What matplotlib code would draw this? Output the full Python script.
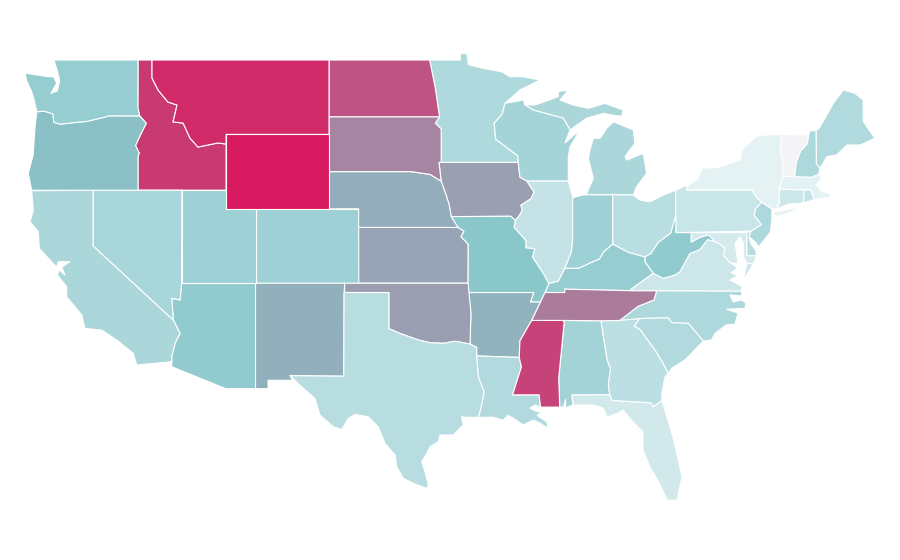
import matplotlib
matplotlib.use("Agg")
import matplotlib.pyplot as plt
from matplotlib.colors import LinearSegmentedColormap, Normalize
from matplotlib.patches import Polygon

states = ["AL","AZ","AR","CA","CO","CT","DE","FL","GA","ID","IL","IN","IA","KS","KY","LA","ME","MD","MA","MI","MN","MS","MO","MT","NE","NV","NH","NJ","NM","NY","NC","ND","OH","OK","OR","PA","RI","SC","SD","TN","TX","UT","VT","VA","WA","WV","WI","WY"]
values = [30,36.3,46.7,26.7,31.8,15,22,12.6,20.7,88.8,17.4,32,53.7,51.6,34.4,24.4,24.8,11.8,6.3,26.7,25.5,85.6,39.5,94.7,48.8,28,25.9,26,47.7,6,26,80,21.8,54,41.8,16.3,17,24.4,62.8,66.3,22.2,32,0,15,35,36,29,100]

red_river = [(-94.49,33.73),(-95.5,33.88),(-96.3,33.77),(-97.2,33.8),(-98,33.95),(-99.24,34.3),(-100,34.56)]

outlines = {
"WA":[[(-124.7,48.3),(-123.12,48.1),(-122.75,48.1),(-122.55,47.75),(-122.95,47.2),(-122.5,47.35),(-122.35,47.9),(-122.5,48.4),(-122.73,49),(-117.03,49),(-117.04,46.42),(-116.92,45.995),(-118.98,46),(-119.3,45.93),(-120.5,45.7),(-121.2,45.65),(-122.3,45.55),(-122.75,45.65),(-122.8,46.1),(-123.4,46.25),(-123.9,46.22),(-124.1,46.9),(-124.25,47.3),(-124.6,47.9)]],
"OR":[[(-123.9,46.22),(-123.4,46.25),(-122.8,46.1),(-122.75,45.65),(-122.3,45.55),(-121.2,45.65),(-120.5,45.7),(-119.3,45.93),(-118.98,46),(-116.92,45.995),(-116.47,45.6),(-116.85,45),(-117.2,44.4),(-116.95,44),(-117.03,43.8),(-117.03,42),(-124.25,42),(-124.48,42.9),(-124.15,43.9),(-124.02,45.41)]],
"ID":[[(-117.03,49),(-116.08,49),(-116.08,48.03),(-115.67,47.39),(-115,46.74),(-114.38,46.58),(-114.65,45.67),(-113.97,45.61),(-113.5,44.8),(-112.96,44.32),(-111.6,44.54),(-111.05,44.48),(-111.05,42),(-117.03,42),(-117.03,43.8),(-116.95,44),(-117.2,44.4),(-116.85,45),(-116.47,45.6),(-116.92,45.995),(-117.04,46.42)]],
"MT":[[(-116.08,49),(-104.05,49),(-104.05,45),(-111.05,45),(-111.05,44.48),(-111.6,44.54),(-112.96,44.32),(-113.5,44.8),(-113.97,45.61),(-114.65,45.67),(-114.38,46.58),(-115,46.74),(-115.67,47.39),(-116.08,48.03)]],
"WY":[[(-111.05,45),(-104.05,45),(-104.05,41),(-111.05,41)]],
"ND":[[(-104.05,49),(-97.23,49),(-96.85,47.5),(-96.56,45.94),(-104.05,45.94)]],
"SD":[[(-104.05,45.94),(-96.56,45.94),(-96.85,45.6),(-96.45,45.3),(-96.45,43.5),(-96.6,43.5),(-96.45,42.49),(-97.2,42.85),(-98.5,43),(-104.05,43)]],
"NE":[[(-104.05,43),(-98.5,43),(-97.2,42.85),(-96.45,42.49),(-96.1,41.7),(-95.9,41.2),(-95.77,40.58),(-95.31,40),(-102.05,40),(-102.05,41),(-104.05,41)]],
"KS":[[(-102.05,40),(-95.31,40),(-94.9,39.8),(-95.1,39.5),(-94.61,39.1),(-94.62,37),(-102.04,37)]],
"OK":[[(-103,37),(-94.62,37),(-94.43,35.4)]+red_river+[(-100,36.5),(-103,36.5)]],
"TX":[[(-106.71,32.03),(-103.06,32),(-103.04,36.5),(-100,36.5)]+red_river[::-1]+[(-94.04,33.55),(-94.04,33.09),(-93.93,31.97),(-93.54,31.17),(-93.7,30.45),(-93.93,29.79),(-94.72,29.79),(-95.06,29.82),(-94.95,29.38),(-95.63,28.84),(-96.53,28.84),(-96.64,28.48),(-97.2,28.21),(-97.43,27.85),(-97.77,27.4),(-97.55,26.87),(-97.32,26.15),(-97.43,25.97),(-98.23,26.2),(-99.02,26.51),(-99.47,27.13),(-99.58,27.76),(-100.26,28.39),(-100.72,29.28),(-101.4,29.82),(-102.3,29.95),(-102.75,29.73),(-103.2,29.14),(-103.77,29.28),(-104.68,29.91),(-105.02,30.81),(-105.92,31.43)]],
"NM":[[(-109.05,37),(-103,37),(-103.04,36.5),(-103.06,32),(-106.71,32.03),(-106.53,31.78),(-108.2,31.78),(-108.2,31.33),(-109.05,31.33)]],
"CO":[[(-109.05,41),(-102.05,41),(-102.05,37),(-109.05,37)]],
"UT":[[(-114.05,42),(-111.05,42),(-111.05,41),(-109.05,41),(-109.05,37),(-114.05,37)]],
"AZ":[[(-114.07,37),(-109.05,37),(-109.05,31.33),(-111.07,31.33),(-114.74,32.51),(-114.74,32.78),(-114.74,33.05),(-114.52,33.77),(-114.18,34.3),(-114.63,35.02),(-114.74,36.19),(-114.18,36.1)]],
"NV":[[(-120.07,42),(-114.05,42),(-114.07,37),(-114.18,36.1),(-114.74,36.19),(-114.63,35.02),(-120.07,39)]],
"CA":[[(-124.25,41.97),(-120.07,42),(-120.07,39),(-114.63,35.02),(-114.18,34.3),(-114.52,33.77),(-114.74,33.05),(-114.74,32.78),(-117.12,32.6),(-117.35,33.23),(-118.48,33.95),(-119.5,34.48),(-120.63,34.57),(-120.85,35.29),(-121.87,36.27),(-121.87,36.81),(-122.51,37.44),(-122.37,37.71),(-121.99,37.44),(-122.21,37.86),(-121.65,38.16),(-122.44,38.16),(-122.55,37.86),(-122.89,38.15),(-123.73,38.87),(-123.8,39.77),(-124.36,40.31),(-124.14,40.93)]],
"MN":[[(-97.23,49),(-95.15,49),(-95.15,49.35),(-94.7,49.35),(-94.6,48.75),(-93.6,48.55),(-92.34,48.37),(-91.78,48.1),(-90.87,48.1),(-89.74,47.92),(-91.1,47.39),(-92.12,46.67),(-92.3,46.1),(-92.85,45.6),(-92.75,44.75),(-91.25,43.85),(-91.22,43.5),(-96.45,43.5),(-96.45,45.3),(-96.85,45.6),(-96.56,45.94),(-96.85,47.5)]],
"IA":[[(-96.6,43.5),(-91.22,43.5),(-91.1,42.7),(-90.65,42.5),(-90.15,41.9),(-90.35,41.55),(-91.05,41.2),(-90.95,40.95),(-91.1,40.7),(-91.42,40.38),(-91.72,40.6),(-95.77,40.58),(-95.9,41.2),(-96.1,41.7),(-96.45,42.49)]],
"MO":[[(-95.77,40.58),(-91.72,40.6),(-91.42,40.38),(-91.5,40),(-90.7,39.3),(-90.7,38.9),(-90.1,38.85),(-90.25,38.4),(-89.5,37.5),(-89.15,36.99),(-89.4,36.5),(-89.7,36),(-90.37,36),(-90.15,36.5),(-94.62,36.5),(-94.62,37),(-94.61,39.1),(-95.1,39.5),(-94.9,39.8),(-95.31,40)]],
"AR":[[(-94.62,36.5),(-90.15,36.5),(-90.37,36),(-89.7,36),(-90.3,35),(-90.6,34.6),(-91.1,33.9),(-91.15,33.01),(-94.04,33.09),(-94.04,33.55),(-94.49,33.73),(-94.43,35.4)]],
"LA":[[(-94.04,33.09),(-91.15,33.01),(-91,32.5),(-91.6,31),(-89.8,31),(-89.7,30.34),(-90.08,30.45),(-90.42,30.29),(-89.94,30.1),(-89.6,30.07),(-89.94,29.9),(-89.27,29.54),(-89.2,29.2),(-89.74,29.48),(-90.2,29.64),(-90.88,29.38),(-91.57,29.75),(-91.9,29.9),(-92.25,29.64),(-92.93,29.8),(-93.93,29.79),(-93.7,30.45),(-93.54,31.17),(-93.93,31.97)]],
"MS":[[(-90.3,35),(-88.2,35),(-88.1,34.9),(-88.47,31.9),(-88.4,30.34),(-89.7,30.34),(-89.8,31),(-91.6,31),(-91,32.5),(-91.15,33.01),(-91.1,33.9),(-90.6,34.6)]],
"TN":[[(-90.3,35),(-89.7,36),(-89.4,36.5),(-88.05,36.5),(-88.07,36.68),(-83.68,36.6),(-81.82,36.6),(-82,36.1),(-83.1,35.75),(-84.32,35),(-85.6,34.98),(-88.2,35)]],
"KY":[[(-89.4,36.5),(-89.15,36.99),(-88.5,37.1),(-88.05,37.8),(-87.1,37.8),(-86.3,38.1),(-85.7,38.3),(-85.4,38.7),(-84.8,39.1),(-84.3,38.9),(-83.7,38.65),(-82.6,38.42),(-82.6,38.15),(-82.05,37.53),(-83.68,36.6),(-88.07,36.68),(-88.05,36.5)]],
"IL":[[(-90.65,42.5),(-87.82,42.5),(-87.52,41.65),(-87.52,39.35),(-87.6,38.7),(-88.05,37.8),(-88.5,37.1),(-89.15,36.99),(-89.5,37.5),(-90.25,38.4),(-90.1,38.85),(-90.7,38.9),(-90.7,39.3),(-91.5,40),(-91.42,40.38),(-91.1,40.7),(-90.95,40.95),(-91.05,41.2),(-90.35,41.55),(-90.15,41.9)]],
"IN":[[(-87.52,41.65),(-86.8,41.76),(-84.8,41.76),(-84.8,39.1),(-85.4,38.7),(-85.7,38.3),(-86.3,38.1),(-87.1,37.8),(-88.05,37.8),(-87.6,38.7),(-87.52,39.35)]],
"OH":[[(-84.8,41.76),(-83.4,41.74),(-82.95,41.47),(-82.27,41.38),(-81.37,41.74),(-80.52,42),(-80.52,40.64),(-80.85,39.7),(-81.7,39.2),(-82.2,38.6),(-82.6,38.42),(-83.7,38.65),(-84.3,38.9),(-84.8,39.1)]],
"WI":[[(-92.12,46.67),(-90.87,46.85),(-90.76,46.58),(-90.2,46.31),(-88.16,45.87),(-87.7,45.24),(-88.04,44.55),(-87.02,45.24),(-87.7,44.34),(-87.82,43.8),(-87.82,42.5),(-90.65,42.5),(-91.1,42.7),(-91.22,43.5),(-91.25,43.85),(-92.75,44.75),(-92.85,45.6),(-92.3,46.1)]],
"MI":[[(-90.76,46.58),(-90.2,46.31),(-88.16,45.87),(-87.7,45.24),(-86.57,45.87),(-85.44,46.13),(-84.87,46.04),(-84.2,45.98),(-84.09,46.31),(-85.33,46.67),(-86.46,46.4),(-87.48,46.58),(-88.38,46.85),(-87.82,47.39),(-88.5,47.3),(-88.5,47.03),(-90.08,46.58)],
      [(-87.48,41.62),(-86.8,41.76),(-84.8,41.76),(-83.4,41.74),(-83.18,42.19),(-82.5,42.9),(-82.73,43.98),(-83.86,43.62),(-83.97,43.8),(-83.3,44.52),(-83.4,45.24),(-84.77,45.68),(-85.21,45.33),(-85.67,44.79),(-86.12,44.79),(-86.35,44.16),(-86.46,43.71),(-86.12,42.64),(-86.57,41.83)],
      [(-89.06,47.89),(-88.65,48.02),(-88.75,47.9)]],
"PA":[[(-80.52,42),(-79.78,42.27),(-79.78,42),(-75.35,42),(-75.05,41.6),(-74.7,41.36),(-75.13,40.98),(-75.2,40.65),(-74.72,40.15),(-75.42,39.8),(-80.52,39.72),(-80.52,40.64)]],
"NY":[[(-79.78,42.19),(-78.99,42.64),(-78.76,43.18),(-77.6,43.23),(-76.16,43.62),(-76.05,44.16),(-75.15,44.84),(-74.8,44.95),(-73.38,45),(-73.4,44),(-73.25,43.6),(-73.27,42.75),(-73.5,42.05),(-73.5,41.3),(-73.65,41),(-74,41),(-74.7,41.36),(-75.05,41.6),(-75.35,42),(-79.78,42)],
      [(-74,40.7),(-73.7,40.85),(-72.6,41),(-72,41.1),(-72.6,40.85),(-73.6,40.6)]],
"VT":[[(-73.38,45),(-71.5,44.97),(-71.6,44.5),(-72.05,44.1),(-72.35,43.5),(-72.46,42.73),(-73.27,42.75),(-73.25,43.6),(-73.4,44)]],
"NH":[[(-71.5,44.97),(-71.4,45.2),(-71,45.2),(-70.98,43.4),(-70.73,43.18),(-70.82,42.87),(-71.3,42.7),(-72.46,42.73),(-72.35,43.5),(-72.05,44.1),(-71.6,44.5)]],
"ME":[[(-71,45.2),(-70.73,45.4),(-69.83,46.67),(-69.15,47.39),(-68.35,47.2),(-67.8,46.85),(-67.79,45.7),(-67.45,45.3),(-67,44.79),(-68,44.43),(-68.9,44.43),(-69.6,43.9),(-70.27,43.8),(-70.73,43.18),(-70.98,43.4)]],
"MA":[[(-73.5,42.05),(-73.27,42.75),(-72.46,42.73),(-71.3,42.7),(-70.82,42.87),(-70.6,42.65),(-71,42.3),(-70.65,41.95),(-70.05,41.8),(-70,41.65),(-70.65,41.55),(-71.12,41.5),(-71.38,42.02),(-71.8,42.02)]],
"CT":[[(-73.5,42.05),(-71.8,42.02),(-71.85,41.32),(-72.9,41.25),(-73.65,41),(-73.5,41.3)]],
"RI":[[(-71.8,42.02),(-71.38,42.02),(-71.12,41.5),(-71.85,41.32)]],
"NJ":[[(-74.7,41.36),(-74,41),(-74,40.45),(-74.1,39.75),(-74.9,38.95),(-75.1,39.2),(-75.55,39.5),(-75.42,39.8),(-74.72,40.15),(-75.2,40.65),(-75.13,40.98)]],
"DE":[[(-75.71,39.72),(-75.42,39.8),(-75.55,39.5),(-75.4,39.1),(-75.1,38.8),(-75.05,38.48),(-75.71,38.48)]],
"MD":[[(-79.48,39.72),(-75.71,39.72),(-75.71,38.48),(-75.05,38.48),(-75.25,38.03),(-75.7,38.07),(-75.94,38.43),(-75.94,39.16),(-76.16,39.5),(-76.5,39.15),(-76.39,38.6),(-76.3,38.05),(-76.84,38.1),(-77.3,38.5),(-77.18,38.87),(-77.5,39.1),(-77.86,39.23),(-78.3,39.6),(-78.9,39.45),(-79.48,39.2)]],
"VA":[[(-83.68,36.6),(-82.05,37.53),(-81.37,37.26),(-80.58,37.44),(-80.24,37.62),(-79.56,38.6),(-78.9,38.8),(-78.35,39.35),(-77.86,39.23),(-77.5,39.1),(-77.18,38.87),(-77.3,38.5),(-76.84,38.1),(-76.3,37.85),(-76.75,37.55),(-76.3,37.4),(-76.85,37.17),(-76.3,36.95),(-76.05,36.85),(-76.05,36.58),(-81.82,36.6)],
      [(-75.95,37.15),(-75.6,37.6),(-75.25,38.03),(-75.7,38.07)]],
"WV":[[(-80.52,40.64),(-80.52,39.72),(-79.48,39.72),(-79.48,39.2),(-78.9,39.45),(-78.3,39.6),(-77.86,39.23),(-78.35,39.35),(-78.9,38.8),(-79.56,38.6),(-80.24,37.62),(-80.58,37.44),(-81.37,37.26),(-82.05,37.53),(-82.6,38.15),(-82.6,38.42),(-82.2,38.6),(-81.7,39.2),(-80.85,39.7)]],
"NC":[[(-84.32,35),(-83.1,35.75),(-82,36.1),(-81.82,36.6),(-76.05,36.58),(-76.05,36.31),(-76.84,36.37),(-76.63,36),(-76.05,36.1),(-75.75,35.92),(-75.82,35.65),(-77.07,35.6),(-76.3,35.4),(-76.5,34.8),(-77.11,34.75),(-77.86,34.3),(-78.1,33.95),(-78.65,33.89),(-79.67,34.84),(-80.8,34.88),(-81.03,35.14),(-82.95,35.1)]],
"SC":[[(-82.95,35.1),(-81.03,35.14),(-80.8,34.88),(-79.67,34.84),(-78.65,33.89),(-79.9,32.87),(-80.8,32.43),(-81.03,32.15),(-81.37,32.69),(-81.93,33.41),(-82.95,34.52),(-83.35,34.7)]],
"GA":[[(-85.6,34.98),(-82.95,35.1),(-83.35,34.7),(-82.95,34.52),(-81.93,33.41),(-81.37,32.69),(-81.03,32.15),(-81.25,31.97),(-81.47,31.08),(-81.46,30.7),(-82.05,30.36),(-82.2,30.57),(-84.86,30.7),(-85,31),(-85.1,31.55),(-84.95,32.4),(-85.18,32.87)]],
"AL":[[(-88.2,35),(-85.6,34.98),(-85.18,32.87),(-84.95,32.4),(-85.1,31.55),(-85,31),(-87.57,30.99),(-87.5,30.45),(-88,30.3),(-88,30.75),(-88.15,30.35),(-88.4,30.34),(-88.47,31.9),(-88.1,34.9)]],
"FL":[[(-87.57,30.99),(-85,31),(-84.86,30.7),(-82.2,30.57),(-82.05,30.36),(-81.46,30.7),(-80.71,28.72),(-80.1,26.58),(-80.44,25.34),(-81.1,25.34),(-81.73,26.4),(-82.27,27.1),(-82.75,28.03),(-82.75,29),(-83.43,29.54),(-84.1,30.18),(-84.5,30),(-85.19,29.8),(-85.46,30.29),(-86.14,30.45),(-87.5,30.45)]],
}

cmap = LinearSegmentedColormap.from_list("rate", [(0, "#F4F4F6"), (0.06, "#E4F2F4"), (0.126, "#D2E9EC"), (0.26, "#ADD8DC"), (0.4, "#88C6CA"), (1, "#D81B60")])
norm = Normalize(0, 100)

fig = plt.figure(figsize=(9, 5.6), dpi=100, facecolor="white")
ax = fig.add_axes([0, 0, 1, 1])
for name, value in zip(states, values):
    for ring in outlines[name]:
        ax.add_patch(Polygon(ring, closed=True, facecolor=cmap(norm(value)), edgecolor="white", linewidth=0.8, joinstyle="round"))
ax.set_xlim(-126.40, -65.30)
ax.set_ylim(22.12, 52.226)
ax.axis("off")
fig.savefig("out.png", dpi=100, facecolor="white")
